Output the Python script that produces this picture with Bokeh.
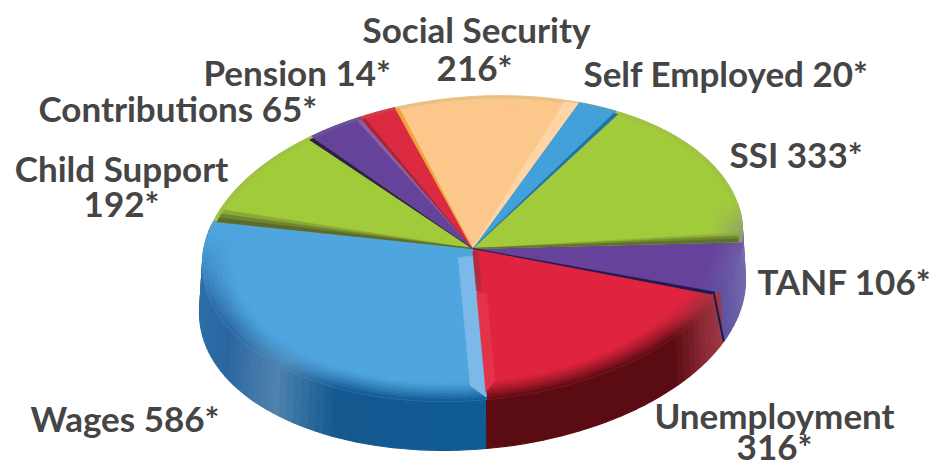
import math
from bokeh.plotting import figure
from bokeh.models import ColumnDataSource, Range1d
from bokeh.core.properties import value
from bokeh.embed import file_html
from bokeh.resources import INLINE

# ---- data (counter-clockwise from the front) ----
categories = ["Unemployment", "TANF", "SSI", "Self Employed", "Social Security",
              "Pension", "Contributions", "Child Support", "Wages"]
values = [316, 106, 333, 20, 216, 14, 65, 192, 586]
# slice sizes as they are drawn in the picture, same unit as the values
drawn = [329, 100, 316, 46, 205, 41, 62, 190, 562]
face_colors = ["#e0243f", "#66429a", "#a2cb3b", "#43a0d9", "#fcc78a",
               "#dc2a40", "#66439b", "#a2cb3a", "#4fa5de"]

W, H = 932, 465
CX, CY, RX, RY, TILT = 472, 248, 270, 152, 0.06
BX, BY, BRX, BRY = 472, 296, 273, 153
START = -87.0

def top(t, r=1.0):
    a = math.radians(t)
    dx = RX * r * math.cos(a)
    return CX + dx, CY - RY * r * math.sin(a) - TILT * dx

def bottom(t):
    a = math.radians(t)
    dx = BRX * math.cos(a)
    return BX + dx, BY - BRY * math.sin(a) - TILT * dx

def h2r(c):
    return [int(c[i:i + 2], 16) for i in (1, 3, 5)]

def mix(c1, c2, f):
    a, b = h2r(c1), h2r(c2)
    return "#%02x%02x%02x" % tuple(round(x + (y - x) * f) for x, y in zip(a, b))

side_stops = [(150, "#2f6da8"), (190, "#2f6da8"), (206, "#2a66a0"), (224, "#4f82ae"),
              (240, "#14598f"), (273, "#0f5b94"), (273.01, "#5b0c12"), (318, "#5b0c12"),
              (328, "#8a2935"), (337, "#a03a48"), (337.01, "#5e52a0"), (350, "#7264ac"),
              (375, "#7a6cb0")]

def side_color(t):
    while t < 150:
        t += 360
    for (a, ca), (b, cb) in zip(side_stops, side_stops[1:]):
        if a <= t <= b:
            return mix(ca, cb, (t - a) / (b - a))
    return side_stops[-1][1]

total = sum(drawn)
edges = [START]
for d in drawn:
    edges.append(edges[-1] + 360.0 * d / total)

p = figure(width=W, height=H, x_range=Range1d(0, W), y_range=Range1d(H, 0),
           output_backend="svg", toolbar_location=None, min_border=0,
           background_fill_color="white", border_fill_color="white", outline_line_color=None)
p.axis.visible = False
p.grid.visible = False

# side wall
wx, wy, wc = [], [], []
t = 165.0
while t < 370:
    a0, a1 = t, t + 2.0
    q = [top(a0), top(a1), bottom(a1), bottom(a0)]
    wx.append([v[0] for v in q]); wy.append([v[1] for v in q]); wc.append(side_color(a0 + 1.0))
    t += 2.0
p.patches("xs", "ys", source=ColumnDataSource(dict(xs=wx, ys=wy, c=wc)),
          fill_color="c", line_color="c", line_width=1.2)

xs, ys, cs = [], [], []

def add(pts, c):
    xs.append([q[0] for q in pts])
    ys.append([q[1] for q in pts])
    cs.append(c)

# faces with a soft rim
RIM = 0.88
NR = 7
for i, c in enumerate(face_colors):
    t0, t1 = edges[i], edges[i + 1]
    n = max(2, int((t1 - t0) / 1.5))
    ts = [t0 + (t1 - t0) * k / n for k in range(n + 1)]
    add([(CX, CY)] + [top(a) for a in ts], c)
    for j in range(n):
        am = (ts[j] + ts[j + 1]) / 2
        s = max(0.0, min(1.0, 0.45 - 2.2 * math.sin(math.radians(am))))
        for k in range(NR):
            r0 = RIM + (1 - RIM) * k / NR
            r1 = RIM + (1 - RIM) * (k + 1) / NR
            f = ((k + 0.5) / NR) ** 1.2
            if s > 0:
                col = mix(c, side_color(am), s * f)
            else:
                back = max(0.0, (k - NR + 2.0) / 2.0)
                col = mix(c, "#8f9a80", 0.35 * back)
            add([top(ts[j], r0), top(ts[j + 1], r0), top(ts[j + 1], r1), top(ts[j], r1)], col)

def wedge(t_edge, dt, c, r=1.0):
    add([(CX, CY), top(t_edge, r), top(t_edge + dt, r)], c)

def strip(t_edge, width, c, r0=0.1, r1=0.97, r2=0.9):
    x0, y0 = top(t_edge, r0)
    x1, y1 = top(t_edge, r1)
    x2, y2 = top(t_edge, r2)
    ln = math.hypot(x1 - x0, y1 - y0)
    nx, ny = -(y1 - y0) / ln * width, (x1 - x0) / ln * width
    add([(x0, y0), (x1, y1), (x2 + nx, y2 + ny), (x0 + nx, y0 + ny)], c)

e = edges
# Wages: light band along the boundary with Unemployment
strip(e[9], 15, "#7ab9e8", r0=0.05, r1=0.985, r2=0.9)
# Unemployment: lighter band beside Wages
strip(e[0], -10, "#e33349", r0=0.3, r1=0.95, r2=0.88)
strip(e[0], -5, "#b02b3e", r0=0.02, r1=0.28, r2=0.28)
# SSI lower shadow
wedge(e[2], 3.4, "#8fb03a", 0.985)
wedge(e[2], 2.3, "#748c30", 0.985)
wedge(e[2], 1.2, "#5e712d", 0.985)
# Child Support lower shadow
wedge(e[8], -4.6, "#8aa838", 0.985)
wedge(e[8], -3.0, "#6f8530", 0.985)
wedge(e[8], -1.5, "#5a6b2d", 0.985)
# Social Security bevels
wedge(e[4], 3.0, "#ffd5a8", 0.99)
wedge(e[5], -0.8, "#f2a33a", 0.99)
# dark dividers
wedge(e[1], -1.0, "#1f1a52", 0.97)
wedge(e[7], 1.0, "#2d1d55", 0.985)
wedge(e[3], -1.0, "#1f72ab", 0.985)
wedge(e[6], 1.0, "#8f5f9f", 0.98)
wedge(e[6], -0.8, "#a82538", 0.98)

p.patches("xs", "ys", source=ColumnDataSource(dict(xs=xs, ys=ys, c=cs)),
          fill_color="c", line_color="c", line_width=0.6)

# dark line on the wall between Unemployment and TANF
ax, ay = top(e[1], 0.97)
bx, by = bottom(e[1])
p.line([ax, bx], [ay, by], line_color="#1b1a4f", line_width=2)

# labels built from the data
lab = {c: v for c, v in zip(categories, values)}
one = lambda c: f"{c} {lab[c]}*"
two = lambda c: f"{lab[c]}*"
T = dict(text=[], x=[], y=[], a=[])

def put(s, x, y, a="left"):
    T["text"].append(s); T["x"].append(x); T["y"].append(y); T["a"].append(a)

put("Social Security", 476, 28, "center")
put(two("Social Security"), 474, 66, "center")
put(one("Self Employed"), 583, 72)
put(one("Pension"), 203, 71)
put(one("Contributions"), 38, 107)
put("Child Support", 121, 167, "center")
put(two("Child Support"), 121, 202, "center")
put(one("SSI"), 729, 153)
put(one("TANF"), 757, 280)
put(one("Wages"), 30, 417)
put("Unemployment", 774, 414, "center")
put(two("Unemployment"), 774, 445, "center")

p.text("x", "y", text="text", source=ColumnDataSource(T), text_align="a",
       text_baseline="alphabetic", text_font=value("Lato"), text_font_style="bold",
       text_font_size="35px", text_color="#454545")

open("out.html", "w").write(file_html(p, INLINE))
